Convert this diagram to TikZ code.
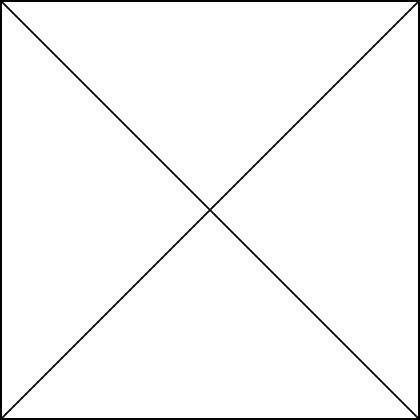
\documentclass[tikz,border=0pt]{standalone}
\usepackage{tikz}
\tikzset
    { frame line/.style = 
        { line width = 1.1pt
        , line join = miter
        }
    }
\begin{document}
\begin{tikzpicture}

            \useasboundingbox (-0.03, -0.03) rectangle (10.03, 10.03);

            \coordinate (sw) at (0, 0);
            \coordinate (se) at (10, 0);
            \coordinate (ne) at (10, 10);
            \coordinate (nw) at (0, 10);

            \draw[frame line] (sw) -- (se) -- (ne) -- (nw) -- cycle;
            \draw[frame line] (sw) -- (ne);
            \draw[frame line] (nw) -- (se);

        \end{tikzpicture}
\end{document}
